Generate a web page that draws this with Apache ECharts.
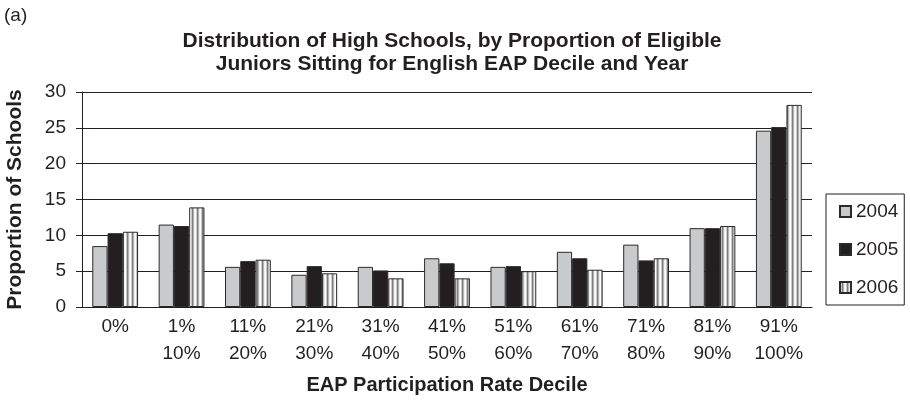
<!DOCTYPE html>
<html><head><meta charset="utf-8">
<script src="https://cdn.jsdelivr.net/npm/echarts@6/dist/echarts.min.js"></script>
<style>html,body{margin:0;padding:0;background:#fff}#c{width:910px;height:402px}</style>
</head><body><div id="c"></div>
<script>
const categories = ['0%', '1%\n10%', '11%\n20%', '21%\n30%', '31%\n40%', '41%\n50%', '51%\n60%', '61%\n70%', '71%\n80%', '81%\n90%', '91%\n100%'];
const years = ['2004', '2005', '2006'];
const v2004 = [8.5, 11.5, 5.6, 4.5, 5.6, 6.8, 5.6, 7.7, 8.7, 11.0, 24.6];
const v2005 = [10.3, 11.3, 6.4, 5.7, 5.1, 6.1, 5.7, 6.8, 6.5, 11.0, 25.1];
const v2006 = [10.5, 13.9, 6.6, 4.7, 4.0, 4.0, 5.0, 5.2, 6.8, 11.3, 28.2];
const yTicks = [0, 5, 10, 15, 20, 25, 30];

const FONT = '"Liberation Sans", Arial, Helvetica, sans-serif';

// striped pattern for 2006
const pc = document.createElement('canvas');
pc.width = 5; pc.height = 10;
const pctx = pc.getContext('2d');
const stripes = ['#ffffff', '#c9c9c9', '#7d7d7d', '#b5b5b5', '#eeeeee'];
stripes.forEach((c, i) => { pctx.fillStyle = c; pctx.fillRect(i, 0, 1, 10); });

const chart = echarts.init(document.getElementById('c'), null, {renderer: 'canvas'});
const border = {borderColor: '#2a2a2a', borderWidth: 1};
chart.setOption({
  animation: false,
  backgroundColor: '#fff',
  textStyle: {fontFamily: FONT},
  title: {
    text: 'Distribution of High Schools, by Proportion of Eligible\nJuniors Sitting for English EAP Decile and Year',
    left: 447, top: 25, textAlign: 'center',
    textStyle: {fontFamily: FONT, fontSize: 21, fontWeight: 'bold', color: '#231f20', lineHeight: 23}
  },
  graphic: [{type: 'text', left: 4, top: 6, style: {text: '(a)', font: '19px ' + FONT, fill: '#231f20'}}],
  legend: {
    orient: 'vertical', left: 826, top: 194, width: 84, height: 112,
    padding: [8, 6, 8, 13], itemGap: 19, itemWidth: 11, itemHeight: 11,
    borderColor: '#231f20', borderWidth: 1,
    icon: 'rect',
    textStyle: {fontFamily: FONT, fontSize: 19, color: '#231f20', padding: [0, 0, 0, 0]},
    data: years
  },
  grid: {left: 82, right: 98, top: 92, bottom: 95, containLabel: false, outerBoundsMode: 'none'},
  xAxis: {
    type: 'category', data: categories,
    axisLine: {lineStyle: {color: '#231f20', width: 1}},
    axisTick: {show: false},
    axisLabel: {fontFamily: FONT, fontSize: 19, color: '#231f20', lineHeight: 27, margin: 6, interval: 0},
    name: 'EAP Participation Rate Decile', nameLocation: 'middle', nameGap: 68,
    nameTextStyle: {fontFamily: FONT, fontSize: 20, fontWeight: 'bold', color: '#231f20'}
  },
  yAxis: {
    type: 'value', min: yTicks[0], max: yTicks[yTicks.length - 1], interval: 5,
    axisLine: {show: true, lineStyle: {color: '#231f20', width: 1}},
    axisTick: {show: true, length: 6, inside: false, lineStyle: {color: '#231f20'}},
    splitLine: {lineStyle: {color: '#231f20', width: 1}},
    axisLabel: {fontFamily: FONT, fontSize: 19, color: '#231f20', margin: 16},
    name: 'Proportion of Schools', nameLocation: 'middle', nameGap: 56,
    nameTextStyle: {fontFamily: FONT, fontSize: 21, fontWeight: 'bold', color: '#231f20'}
  },
  series: [
    {name: years[0], type: 'bar', data: v2004, barGap: '0%', barCategoryGap: '31%',
     itemStyle: Object.assign({color: '#c9cacc'}, border)},
    {name: years[1], type: 'bar', data: v2005,
     itemStyle: Object.assign({color: '#231f20'}, border)},
    {name: years[2], type: 'bar', data: v2006,
     itemStyle: Object.assign({color: {image: pc, repeat: 'repeat'}}, border)}
  ]
});
</script></body></html>
